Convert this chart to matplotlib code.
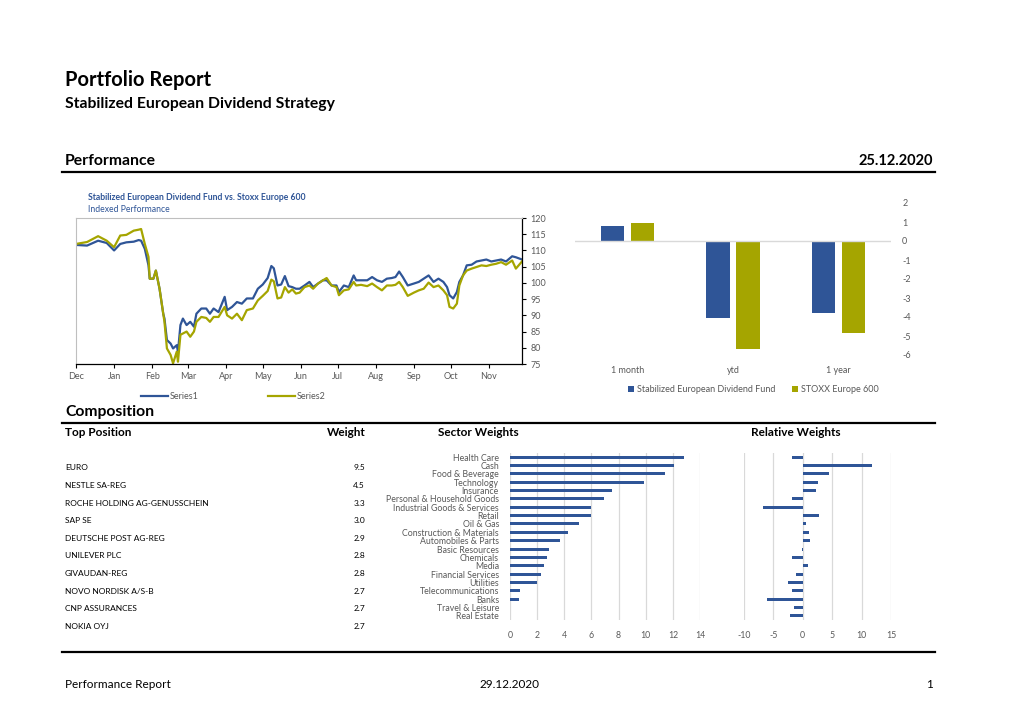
import numpy as np
import pandas as pd
import matplotlib
matplotlib.use("Agg")
import matplotlib.pyplot as plt
import matplotlib.dates as mdates
from matplotlib.lines import Line2D

plt.rcParams["font.family"] = ["Lato", "DejaVu Sans"]
plt.rcParams["axes.unicode_minus"] = False

BLUE = "#2F5597"
OLIVE = "#A5A500"
GREY = "#595959"
GRID = "#D9D9D9"

# indexed performance, days after 1 Dec 2019
perf_days = [0, 9, 18, 25, 31, 36, 41, 47, 51, 53, 56, 59, 60, 63, 65, 68, 71, 72, 74, 77,
             79, 82, 83, 85, 87, 90, 93, 96, 98, 102, 106, 109, 112, 116, 121, 123, 127, 131,
             135, 139, 144, 148, 152, 156, 159, 161, 164, 167, 170, 173, 176, 179, 182, 186,
             190, 193, 197, 201, 204, 208, 212, 214, 218, 222, 226, 228, 232, 237, 241, 245,
             249, 253, 257, 260, 263, 266, 270, 275, 279, 283, 287, 291, 295, 299, 302, 304,
             307, 310, 312, 315, 318, 322, 326, 330, 334, 338, 342, 346, 350, 355, 358, 363]
fund_idx = [111.7, 111.5, 113.0, 112.3, 110.0, 112.0, 112.5, 112.7, 113.2, 113.0, 110.5, 105.4,
            101.3, 101.3, 103.8, 98.2, 90.5, 89.0, 82.4, 81.3, 79.8, 80.8, 78.8, 87.0, 89.0,
            87.0, 88.0, 86.5, 90.5, 92.1, 92.1, 90.5, 92.1, 91.0, 95.7, 91.6, 92.6, 94.1, 93.6,
            95.2, 95.2, 98.2, 99.5, 101.5, 105.2, 104.5, 99.2, 99.5, 102.1, 99.0, 98.7, 98.2,
            98.2, 99.2, 100.3, 98.7, 99.8, 100.8, 100.8, 99.2, 99.2, 97.2, 99.2, 98.7, 102.3,
            100.8, 100.8, 100.8, 101.8, 100.8, 100.3, 101.3, 101.5, 101.8, 103.5, 101.8, 99.2,
            99.8, 100.3, 101.3, 102.3, 100.3, 101.3, 100.3, 98.7, 96.2, 95.2, 97.2, 100.3,
            102.3, 105.4, 105.6, 106.6, 106.9, 107.2, 106.6, 106.9, 107.2, 106.6, 108.2, 107.9,
            107.2]
stoxx_idx = [112.0, 112.6, 114.4, 113.0, 111.0, 114.6, 114.8, 116.1, 116.4, 116.6, 112.0, 108.0,
             101.3, 101.3, 103.8, 98.2, 90.5, 88.0, 79.8, 77.8, 75.2, 78.8, 75.7, 84.0, 84.4,
             85.0, 83.4, 85.0, 88.0, 89.5, 89.2, 88.0, 89.5, 89.5, 92.6, 90.0, 89.0, 90.5, 88.5,
             91.6, 92.1, 94.6, 96.0, 97.5, 101.0, 100.5, 95.2, 95.5, 98.7, 97.0, 98.0, 96.7,
             97.0, 98.7, 99.2, 98.2, 99.8, 100.8, 101.5, 99.2, 98.7, 96.2, 97.7, 98.0, 100.3,
             99.2, 99.4, 99.0, 99.8, 98.7, 97.7, 99.2, 99.2, 99.4, 100.3, 98.7, 96.0, 97.0,
             97.7, 98.2, 100.1, 98.7, 99.2, 97.7, 96.2, 92.6, 92.1, 93.6, 99.2, 102.3, 103.8,
             104.4, 104.9, 105.4, 105.2, 105.6, 105.9, 106.4, 105.6, 106.9, 104.4, 106.6]

periods = ["1 month", "ytd", "1 year"]
fund_ret = [0.81, -4.07, -3.81]
stoxx_ret = [0.93, -5.68, -4.86]

positions = ["EURO", "NESTLE SA-REG", "ROCHE HOLDING AG-GENUSSCHEIN", "SAP SE",
             "DEUTSCHE POST AG-REG", "UNILEVER PLC", "GIVAUDAN-REG", "NOVO NORDISK A/S-B",
             "CNP ASSURANCES", "NOKIA OYJ"]
pos_weights = [9.5, 4.5, 3.3, 3.0, 2.9, 2.8, 2.8, 2.7, 2.7, 2.7]

sectors = ["Health Care", "Cash", "Food & Beverage", "Technology", "Insurance",
           "Personal & Household Goods", "Industrial Goods & Services", "Retail", "Oil & Gas",
           "Construction & Materials", "Automobiles & Parts", "Basic Resources", "Chemicals",
           "Media", "Financial Services", "Utilities", "Telecommunications", "Banks",
           "Travel & Leisure", "Real Estate"]
sector_w = [12.8, 12.1, 11.4, 9.9, 7.5, 6.9, 6.0, 6.0, 5.1, 4.3, 3.7, 2.9, 2.7, 2.5, 2.3,
            2.0, 0.75, 0.7, 0.0, 0.0]
relative_w = [-1.8, 11.8, 4.5, 2.6, 2.3, -1.8, -6.7, 2.8, 0.6, 1.1, 1.3, -0.2, -1.8, 0.85,
              -1.15, -2.45, -1.8, -6.1, -1.5, -2.2]

W, H = 1020, 721
fig = plt.figure(figsize=(W / 100, H / 100), dpi=100)


def box(l, t, r, b):
    return [l / W, 1 - b / H, (r - l) / W, (b - t) / H]


def txt(x, y, s, **kw):
    kw.setdefault("va", "center")
    fig.text(x / W, 1 - y / H, s, **kw)


def hline(y, x0=62, x1=935, lw=1.6):
    fig.add_artist(Line2D([x0 / W, x1 / W], [1 - y / H] * 2, color="black", lw=lw,
                          transform=fig.transFigure))


# page header
txt(65, 80, "Portfolio Report", fontsize=14.5, fontweight="bold")
txt(65, 104, "Stabilized European Dividend Strategy", fontsize=11.3, fontweight="bold")
txt(65, 161, "Performance", fontsize=11.3, fontweight="bold")
txt(933, 161, "25.12.2020", fontsize=10.5, fontweight="bold", ha="right")
hline(172)

# line chart
ax = fig.add_axes(box(76, 218, 522, 364))
start = pd.Timestamp("2019-12-01")
dates = start + pd.to_timedelta(perf_days, unit="D")
ax.plot(dates, fund_idx, color=BLUE, lw=1.6, label="Series1")
ax.plot(dates, stoxx_idx, color=OLIVE, lw=1.6, label="Series2")
ax.set_xlim(start, start + pd.Timedelta(days=363))
ax.set_ylim(75, 120)
ax.set_yticks(np.arange(75, 121, 5))
ax.yaxis.tick_right()
ax.xaxis.set_major_locator(mdates.MonthLocator())
ax.xaxis.set_major_formatter(mdates.DateFormatter("%b"))
ax.tick_params(labelsize=6.5, labelcolor=GREY, length=3, width=0.8, pad=3)
for s in ["left", "top"]:
    ax.spines[s].set_color("#BFBFBF")
    ax.spines[s].set_linewidth(0.8)
for s in ["right", "bottom"]:
    ax.spines[s].set_linewidth(0.9)
ax.legend(loc="upper left", bbox_to_anchor=(133 / W, 1 - 384 / H),
          bbox_transform=fig.transFigure, ncol=2, frameon=False, fontsize=6.5,
          handlelength=3.0, columnspacing=7.6, handletextpad=0.2, labelcolor=GREY)
txt(88, 197, "Stabilized European Dividend Fund vs. Stoxx Europe 600", fontsize=6.2,
    fontweight="bold", color=BLUE)
txt(88, 209, "Indexed Performance", fontsize=6.2, color=BLUE)

# period returns
bx = fig.add_axes(box(575, 203, 891, 355))
xp = np.arange(len(periods))
bx.bar(xp - 0.143, fund_ret, width=0.22, color=BLUE, label="Stabilized European Dividend Fund")
bx.bar(xp + 0.143, stoxx_ret, width=0.22, color=OLIVE, label="STOXX Europe 600")
bx.axhline(0, color=GRID, lw=1)
bx.set_xlim(-0.5, 2.5)
bx.set_ylim(-6, 2)
bx.set_yticks(np.arange(-6, 3, 1))
bx.set_xticks(xp)
bx.set_xticklabels(periods)
bx.yaxis.tick_right()
bx.tick_params(labelsize=6.5, labelcolor=GREY, length=0)
bx.tick_params(axis="x", pad=8)
bx.tick_params(axis="y", pad=8)
for s in bx.spines.values():
    s.set_visible(False)
bx.legend(loc="upper left", bbox_to_anchor=(620 / W, 1 - 377 / H),
          bbox_transform=fig.transFigure, ncol=2, frameon=False, fontsize=6.5,
          handlelength=0.7, handleheight=0.7, columnspacing=1.8, handletextpad=0.3,
          labelcolor=GREY)

# composition
txt(65, 412, "Composition", fontsize=11.3, fontweight="bold")
hline(423)
txt(65, 433, "Top Position", fontsize=8.5, fontweight="bold")
txt(366, 433, "Weight", fontsize=8.5, fontweight="bold", ha="right")
txt(478, 433, "Sector Weights", fontsize=8.5, fontweight="bold", ha="center")
txt(796, 433, "Relative Weights", fontsize=8.5, fontweight="bold", ha="center")

for i, (name, w) in enumerate(zip(positions, pos_weights)):
    y = 468 + i * 17.6
    txt(65, y, name, fontsize=6.0)
    txt(365, y, f"{w:.1f}", fontsize=6.0, ha="right")

yp = np.arange(len(sectors))
sx = fig.add_axes(box(510, 453, 700, 620))
sx.barh(yp, sector_w, height=0.36, color=BLUE, zorder=3)
sx.set_ylim(len(sectors) - 0.5, -0.5)
sx.set_xlim(0, 14)
sx.set_xticks(np.arange(0, 15, 2))
sx.set_yticks(yp)
sx.set_yticklabels(sectors)
sx.grid(axis="x", color=GRID, lw=0.9)
sx.tick_params(labelsize=6.3, labelcolor=GREY, length=0)
sx.tick_params(axis="x", pad=8)
sx.tick_params(axis="y", pad=8)
for s in sx.spines.values():
    s.set_visible(False)

rx = fig.add_axes(box(744, 453, 891, 620))
rx.barh(yp, relative_w, height=0.36, color=BLUE, zorder=3)
rx.set_ylim(len(sectors) - 0.5, -0.5)
rx.set_xlim(-10, 15)
rx.set_xticks(np.arange(-10, 16, 5))
rx.set_yticks([])
rx.grid(axis="x", color=GRID, lw=0.9)
rx.tick_params(labelsize=6.3, labelcolor=GREY, length=0)
rx.tick_params(axis="x", pad=8)
for s in rx.spines.values():
    s.set_visible(False)

# footer
hline(652)
txt(65, 685, "Performance Report", fontsize=8.5)
txt(510, 685, "29.12.2020", fontsize=8.5, ha="center")
txt(933, 685, "1", fontsize=8.5, ha="right")

fig.savefig("out.png", dpi=100)
